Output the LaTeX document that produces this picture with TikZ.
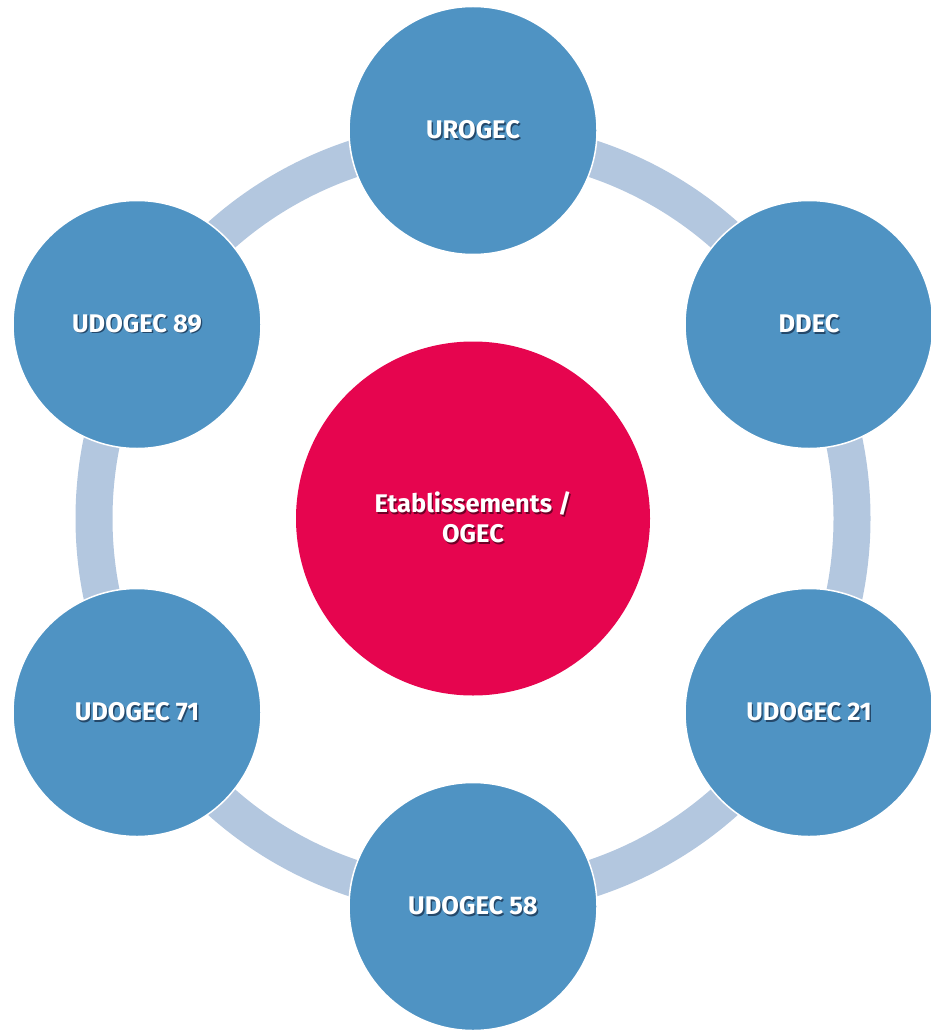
\documentclass[tikz,border=0pt]{standalone}
\usepackage{fontspec}
\setmainfont{Fira Sans}
\definecolor{circblue}{HTML}{4F93C3}
\definecolor{ringblue}{HTML}{B3C7DF}
\definecolor{centred}{HTML}{E6054F}
\definecolor{shblue}{HTML}{24486A}
\definecolor{shred}{HTML}{6E0026}
\newcommand\shtxt[2]{\makebox[0pt][l]{\raisebox{-1.4pt}{\hspace{1.4pt}\textcolor{#1}{#2}}}#2}
\tikzset{
  bluecirc/.style={circle, fill=circblue, draw=white, line width=1.5pt, minimum size=248pt, inner sep=0pt, text=white, font=\fontsize{25.5}{30}\selectfont\bfseries},
  redcirc/.style={circle, fill=centred, draw=none, minimum size=354pt, inner sep=0pt, text=white, align=center, font=\fontsize{25.5}{30}\selectfont\bfseries},
  ring/.style={draw=ringblue, line width=37pt}
}
\begin{document}
\begin{tikzpicture}[x=1pt,y=-1pt]
\useasboundingbox (0,0) rectangle (930,1032);
\coordinate (c) at (473,518.5);
\draw[ring] (c) circle[radius=379];
\node[redcirc] (centre) at (c) {\shtxt{shred}{Etablissements /}\\\shtxt{shred}{OGEC}};
\node[bluecirc] (urogec) at (473,130.5) {\shtxt{shblue}{UROGEC}};
\node[bluecirc] (ddec) at (809,324.5) {\shtxt{shblue}{DDEC}};
\node[bluecirc] (u21) at (809,712.5) {\shtxt{shblue}{UDOGEC 21}};
\node[bluecirc] (u58) at (473,906.5) {\shtxt{shblue}{UDOGEC 58}};
\node[bluecirc] (u71) at (137,712.5) {\shtxt{shblue}{UDOGEC 71}};
\node[bluecirc] (u89) at (137,324.5) {\shtxt{shblue}{UDOGEC 89}};
\end{tikzpicture}
\end{document}
